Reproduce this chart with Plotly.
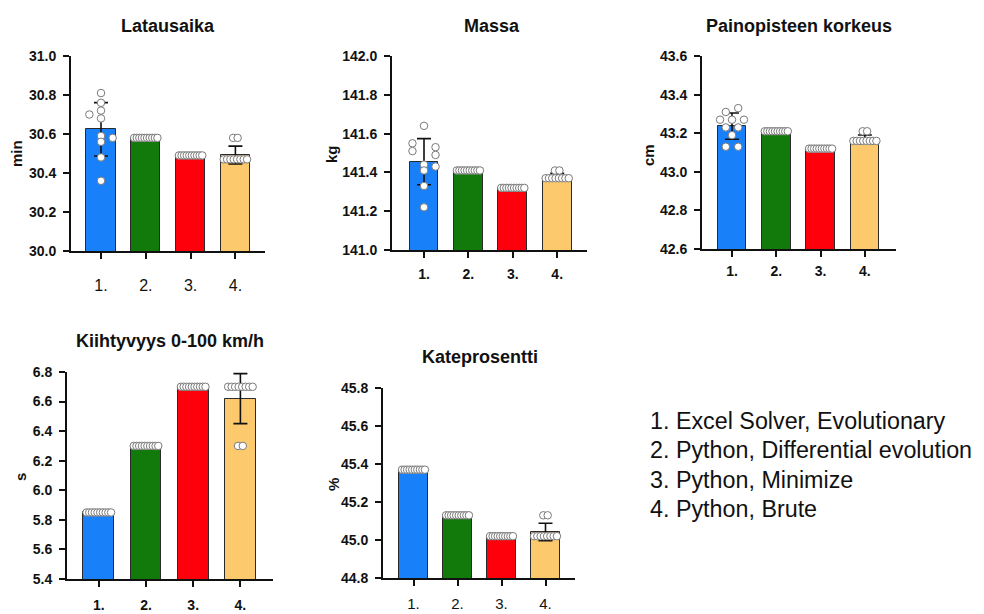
import numpy as np
import plotly.graph_objects as go

W, H = 984, 614
PAGE_OFFSET = 8  # default body margin of the html page

# ---------------- data ----------------
CATEGORIES = ["1.", "2.", "3.", "4."]
LEGEND_LINES = [
    "1. Excel Solver, Evolutionary",
    "2. Python, Differential evolution",
    "3. Python, Minimize",
    "4. Python, Brute",
]
BAR_COLORS = ["#1881FA", "#127A0A", "#FD000C", "#FCCA6C"]

# Latausaika (min)
LAT_MEAN = [30.624, 30.58, 30.49, 30.492]
LAT_SD = [0.137, 0.0, 0.0, 0.046]
LAT_POINTS = [
    [30.81, 30.76, 30.72, 30.70, 30.68, 30.59, 30.58, 30.56, 30.48, 30.36],
    [30.58, 30.58, 30.58, 30.58, 30.58, 30.58, 30.58, 30.58, 30.58, 30.58],
    [30.49, 30.49, 30.49, 30.49, 30.49, 30.49, 30.49, 30.49, 30.49, 30.49],
    [30.47, 30.47, 30.47, 30.47, 30.47, 30.47, 30.47, 30.47, 30.58, 30.58],
]
LAT_TICKS = [30.0, 30.2, 30.4, 30.6, 30.8, 31.0]

# Massa (kg)
MAS_MEAN = [141.455, 141.41, 141.32, 141.378]
MAS_SD = [0.119, 0.0, 0.0, 0.017]
MAS_POINTS = [
    [141.64, 141.55, 141.53, 141.51, 141.49, 141.44, 141.43, 141.41, 141.33, 141.22],
    [141.41, 141.41, 141.41, 141.41, 141.41, 141.41, 141.41, 141.41, 141.41, 141.41],
    [141.32, 141.32, 141.32, 141.32, 141.32, 141.32, 141.32, 141.32, 141.32, 141.32],
    [141.37, 141.37, 141.37, 141.37, 141.37, 141.37, 141.37, 141.37, 141.41, 141.41],
]
MAS_TICKS = [141.0, 141.2, 141.4, 141.6, 141.8, 142.0]

# Painopisteen korkeus (cm)
PAI_MEAN = [43.237, 43.21, 43.12, 43.17]
PAI_SD = [0.068, 0.0, 0.0, 0.021]
PAI_POINTS = [
    [43.33, 43.31, 43.27, 43.27, 43.27, 43.23, 43.23, 43.19, 43.13, 43.13],
    [43.21, 43.21, 43.21, 43.21, 43.21, 43.21, 43.21, 43.21, 43.21, 43.21],
    [43.12, 43.12, 43.12, 43.12, 43.12, 43.12, 43.12, 43.12, 43.12, 43.12],
    [43.16, 43.16, 43.16, 43.16, 43.16, 43.16, 43.16, 43.16, 43.21, 43.21],
]
PAI_TICKS = [42.6, 42.8, 43.0, 43.2, 43.4, 43.6]

# Kiihtyvyys 0-100 km/h (s)
KII_MEAN = [5.85, 6.30, 6.70, 6.62]
KII_SD = [0.0, 0.0, 0.0, 0.169]
KII_POINTS = [
    [5.85, 5.85, 5.85, 5.85, 5.85, 5.85, 5.85, 5.85, 5.85, 5.85],
    [6.30, 6.30, 6.30, 6.30, 6.30, 6.30, 6.30, 6.30, 6.30, 6.30],
    [6.70, 6.70, 6.70, 6.70, 6.70, 6.70, 6.70, 6.70, 6.70, 6.70],
    [6.70, 6.70, 6.70, 6.70, 6.70, 6.70, 6.70, 6.70, 6.30, 6.30],
]
KII_TICKS = [5.4, 5.6, 5.8, 6.0, 6.2, 6.4, 6.6, 6.8]

# Kateprosentti (%)
KAT_MEAN = [45.37, 45.13, 45.02, 45.042]
KAT_SD = [0.0, 0.0, 0.0, 0.046]
KAT_POINTS = [
    [45.37, 45.37, 45.37, 45.37, 45.37, 45.37, 45.37, 45.37, 45.37, 45.37],
    [45.13, 45.13, 45.13, 45.13, 45.13, 45.13, 45.13, 45.13, 45.13, 45.13],
    [45.02, 45.02, 45.02, 45.02, 45.02, 45.02, 45.02, 45.02, 45.02, 45.02],
    [45.02, 45.02, 45.02, 45.02, 45.02, 45.02, 45.02, 45.02, 45.13, 45.13],
]
KAT_TICKS = [44.8, 45.0, 45.2, 45.4, 45.6, 45.8]

# ---------------- styling / layout ----------------
FONT = "Liberation Sans, Arial, sans-serif"
INK = "#111111"

# horizontal scatter offsets (category units) for the spread-out groups
MANUAL_JITTER = {
    ("Latausaika", 0): [0, 0, 0, -0.26, 0, 0, 0.26, 0, 0, 0],
    ("Massa", 0): [0, -0.26, 0.26, -0.26, 0.26, 0, 0.26, 0, 0, 0],
    ("Painopisteen korkeus", 0): [0.14, -0.14, -0.27, 0, 0.27, -0.14, 0.14, 0, 0.14, -0.14],
}


def auto_jitter(vals):
    vals = list(vals)
    offs = [0.0] * len(vals)
    groups = {}
    for i, v in enumerate(vals):
        groups.setdefault(v, []).append(i)
    for v, idx in groups.items():
        n = len(idx)
        if n >= 5:
            pos = np.linspace(-0.26, 0.26, n)
        else:
            pos = np.linspace(-0.05 * (n - 1), 0.05 * (n - 1), n)
        for k, i in enumerate(idx):
            offs[i] = float(pos[k])
    return offs


def px_x(x):
    return (x - PAGE_OFFSET) / W


def px_y(y):
    return 1 - (y - PAGE_OFFSET) / H


PANELS = [
    dict(title="Latausaika", unit="min", mean=LAT_MEAN, sd=LAT_SD, pts=LAT_POINTS, ticks=LAT_TICKS,
         dx=(71, 265), dy=(56, 251), c0=101.0, step=44.8, txy=(168, 26), uxy=(16, 154),
         xbold=False, xsize=16, xstand=13),
    dict(title="Massa", unit="kg", mean=MAS_MEAN, sd=MAS_SD, pts=MAS_POINTS, ticks=MAS_TICKS,
         dx=(392, 587), dy=(56, 250), c0=424.0, step=44.4, txy=(492, 26), uxy=(331, 154),
         xbold=True, xsize=14, xstand=4),
    dict(title="Painopisteen korkeus", unit="cm", mean=PAI_MEAN, sd=PAI_SD, pts=PAI_POINTS, ticks=PAI_TICKS,
         dx=(702, 896), dy=(56, 249), c0=732.0, step=44.3, txy=(799, 26), uxy=(648, 155),
         xbold=True, xsize=14, xstand=2),
    dict(title="Kiihtyvyys 0-100 km/h", unit="s", mean=KII_MEAN, sd=KII_SD, pts=KII_POINTS, ticks=KII_TICKS,
         dx=(67, 273), dy=(372, 579), c0=98.8, step=47.2, txy=(170, 341), uxy=(20, 477),
         xbold=True, xsize=14, xstand=6),
    dict(title="Kateprosentti", unit="%", mean=KAT_MEAN, sd=KAT_SD, pts=KAT_POINTS, ticks=KAT_TICKS,
         dx=(383, 575), dy=(388, 578), c0=413.5, step=44.0, txy=(480, 357), uxy=(333, 485),
         xbold=False, xsize=15, xstand=5),
]

fig = go.Figure()
layout = dict(
    width=W, height=H, margin=dict(l=0, r=0, t=0, b=0, pad=0, autoexpand=False),
    paper_bgcolor="white", plot_bgcolor="white", showlegend=False,
    font=dict(family=FONT, color=INK), bargap=0,
)
annotations = []

for k, p in enumerate(PANELS, start=1):
    xa = "x" if k == 1 else f"x{k}"
    ya = "y" if k == 1 else f"y{k}"
    cats = list(range(len(CATEGORIES)))

    fig.add_trace(go.Bar(
        x=cats, y=p["mean"], xaxis=xa, yaxis=ya, width=0.65,
        marker=dict(color=BAR_COLORS, line=dict(color="#2a2a2a", width=1)),
        hoverinfo="skip",
    ))
    ex = [c for c, s in zip(cats, p["sd"]) if s > 0]
    ey = [m for m, s in zip(p["mean"], p["sd"]) if s > 0]
    es = [s for s in p["sd"] if s > 0]
    if ex:
        fig.add_trace(go.Scatter(
            x=ex, y=ey, xaxis=xa, yaxis=ya, mode="markers",
            marker=dict(size=1, opacity=0),
            error_y=dict(type="data", array=es, visible=True, color="#111111", thickness=1.6, width=7),
            hoverinfo="skip",
        ))
    for c, vals in zip(cats, p["pts"]):
        offs = MANUAL_JITTER.get((p["title"], c)) or auto_jitter(vals)
        fig.add_trace(go.Scatter(
            x=[c + o for o in offs], y=vals, xaxis=xa, yaxis=ya, mode="markers",
            marker=dict(size=7.5, color="white", line=dict(color="#7a7a7a", width=1)),
            cliponaxis=False, hoverinfo="skip",
        ))

    x0, x1 = p["dx"]
    y0, y1 = p["dy"]
    rlo = (x0 - p["c0"]) / p["step"]
    rhi = (x1 - p["c0"]) / p["step"]
    key_x = "xaxis" if k == 1 else f"xaxis{k}"
    key_y = "yaxis" if k == 1 else f"yaxis{k}"
    layout[key_x] = dict(
        domain=[px_x(x0), px_x(x1)], anchor=ya, range=[rlo, rhi],
        tickmode="array", tickvals=cats, ticktext=CATEGORIES,
        showline=True, linecolor="#111111", linewidth=2,
        ticks="outside", ticklen=6, tickwidth=2, tickcolor="#111111",
        showgrid=False, zeroline=False, fixedrange=True, automargin=False,
        tickfont=dict(size=p["xsize"], family=FONT, color=INK,
                      weight="bold" if p["xbold"] else "normal"),
        ticklabelstandoff=p["xstand"],
    )
    layout[key_y] = dict(
        domain=[px_y(y1), px_y(y0)], anchor=xa,
        range=[p["ticks"][0], p["ticks"][-1]],
        tickmode="array", tickvals=p["ticks"],
        ticktext=[f"{t:.1f}" for t in p["ticks"]],
        showline=True, linecolor="#111111", linewidth=2,
        ticks="outside", ticklen=6, tickwidth=2, tickcolor="#111111",
        showgrid=False, zeroline=False, fixedrange=True, automargin=False,
        tickfont=dict(size=14, family=FONT, color=INK, weight="bold"),
        ticklabelstandoff=4,
    )
    tx, ty = p["txy"]
    annotations.append(dict(
        text=p["title"], x=px_x(tx), y=px_y(ty), xref="paper", yref="paper",
        xanchor="center", yanchor="middle", showarrow=False,
        font=dict(size=18, family=FONT, color=INK, weight="bold"),
    ))
    ux, uy = p["uxy"]
    annotations.append(dict(
        text=p["unit"], x=px_x(ux), y=px_y(uy), xref="paper", yref="paper",
        xanchor="center", yanchor="middle", showarrow=False, textangle=-90,
        font=dict(size=15, family=FONT, color=INK, weight="bold"),
    ))

for i, line in enumerate(LEGEND_LINES):
    annotations.append(dict(
        text=line, x=px_x(648), y=px_y(421 + 29.3 * i), xref="paper", yref="paper",
        xanchor="left", yanchor="middle", showarrow=False,
        font=dict(size=23.3, family=FONT, color=INK),
    ))

layout["annotations"] = annotations
fig.update_layout(**layout)
fig.write_html("out.html")
